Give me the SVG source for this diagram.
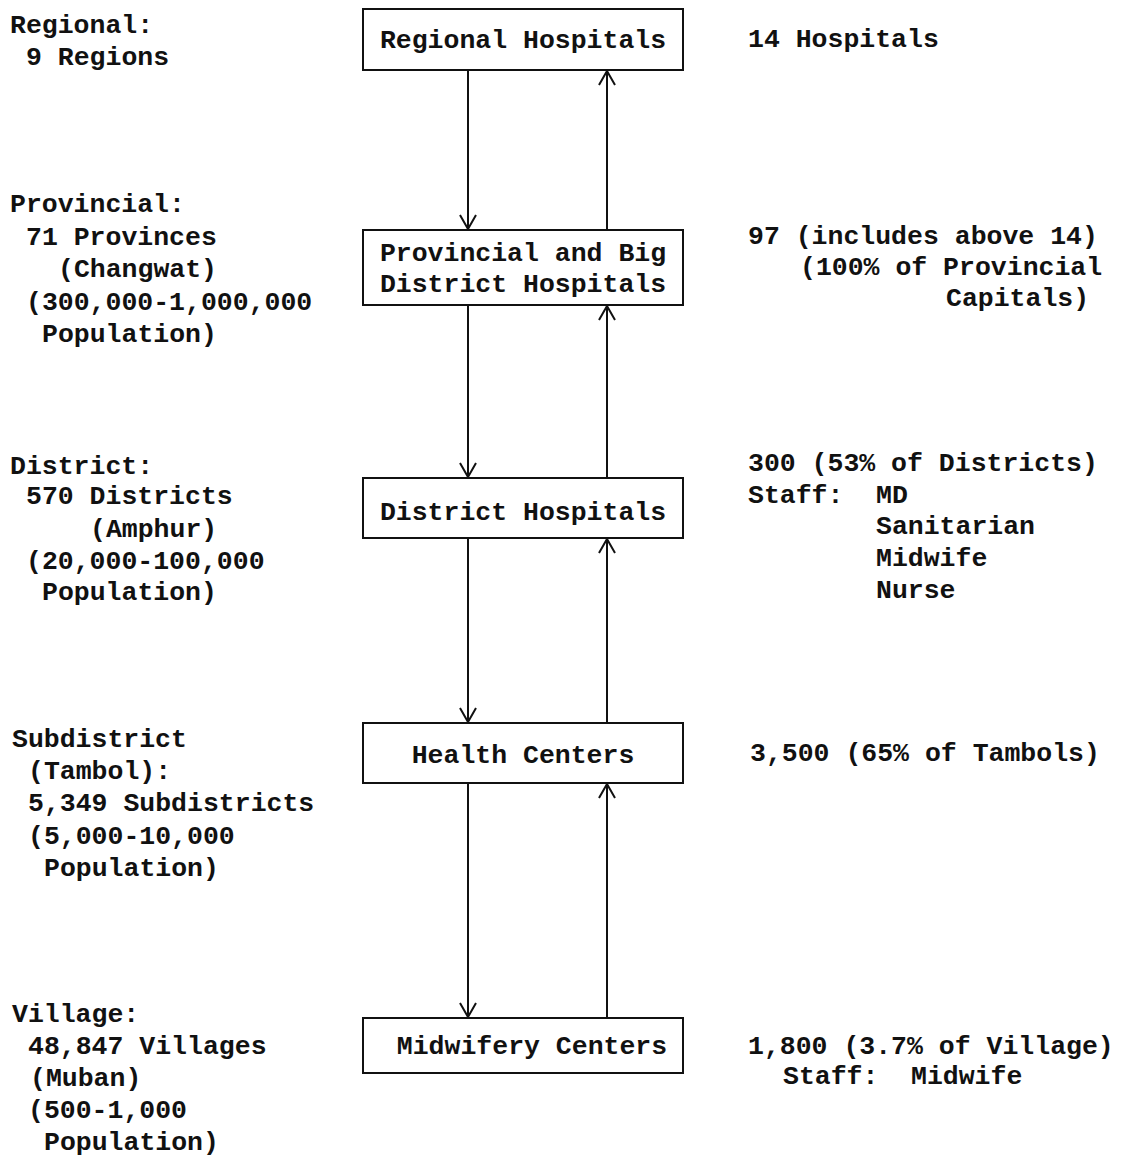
<svg xmlns="http://www.w3.org/2000/svg" width="1123" height="1156" viewBox="0 0 1123 1156">
<style>
text{font-family:"Liberation Mono","Courier New",monospace;font-size:26.5px;font-weight:bold;fill:#111}
.box{fill:#fff;stroke:#111;stroke-width:2}
.c{text-anchor:middle}
.ln{stroke:#111;stroke-width:2;fill:none}
</style>
<defs>
<marker id="ah" viewBox="0 0 16 18" refX="15" refY="9" markerWidth="16" markerHeight="18" markerUnits="userSpaceOnUse" orient="auto">
<path d="M1,1 L15,9 L1,17" fill="none" stroke="#111" stroke-width="2"/>
</marker>
</defs>
<rect width="1123" height="1156" fill="#fff"/>
<g id="connectors">
<line class="ln" x1="468" y1="70" x2="468" y2="229" marker-end="url(#ah)"/>
<line class="ln" x1="607" y1="230" x2="607" y2="71" marker-end="url(#ah)"/>
<line class="ln" x1="468" y1="305" x2="468" y2="477" marker-end="url(#ah)"/>
<line class="ln" x1="607" y1="478" x2="607" y2="306" marker-end="url(#ah)"/>
<line class="ln" x1="468" y1="538" x2="468" y2="722" marker-end="url(#ah)"/>
<line class="ln" x1="607" y1="723" x2="607" y2="539" marker-end="url(#ah)"/>
<line class="ln" x1="468" y1="783" x2="468" y2="1017" marker-end="url(#ah)"/>
<line class="ln" x1="607" y1="1018" x2="607" y2="784" marker-end="url(#ah)"/>
</g>
<g id="node-regional">
<rect class="box" x="363" y="9" width="320" height="61"/>
<text class="c" x="523" y="48">Regional Hospitals</text>
</g>
<g id="node-provincial">
<rect class="box" x="363" y="230" width="320" height="75"/>
<text class="c" x="523" y="261">Provincial and Big</text>
<text class="c" x="523" y="292">District Hospitals</text>
</g>
<g id="node-district">
<rect class="box" x="363" y="478" width="320" height="60"/>
<text class="c" x="523" y="520">District Hospitals</text>
</g>
<g id="node-health">
<rect class="box" x="363" y="723" width="320" height="60"/>
<text class="c" x="523" y="763">Health Centers</text>
</g>
<g id="node-midwifery">
<rect class="box" x="363" y="1018" width="320" height="55"/>
<text class="c" x="532" y="1054">Midwifery Centers</text>
</g>
<g id="left-labels">
<text x="10" y="33">Regional:</text>
<text x="26" y="65">9 Regions</text>
<text x="10" y="212">Provincial:</text>
<text x="26" y="245">71 Provinces</text>
<text x="58" y="277">(Changwat)</text>
<text x="26" y="310">(300,000-1,000,000</text>
<text x="42" y="342">Population)</text>
<text x="10" y="474">District:</text>
<text x="26" y="504">570 Districts</text>
<text x="90" y="537">(Amphur)</text>
<text x="26" y="569">(20,000-100,000</text>
<text x="42" y="600">Population)</text>
<text x="12" y="747">Subdistrict</text>
<text x="28" y="779">(Tambol):</text>
<text x="28" y="811">5,349 Subdistricts</text>
<text x="28" y="844">(5,000-10,000</text>
<text x="44" y="876">Population)</text>
<text x="12" y="1022">Village:</text>
<text x="28" y="1054">48,847 Villages</text>
<text x="30" y="1086">(Muban)</text>
<text x="28" y="1118">(500-1,000</text>
<text x="44" y="1150">Population)</text>
</g>
<g id="right-labels">
<text x="748" y="47">14 Hospitals</text>
<text x="748" y="244">97 (includes above 14)</text>
<text x="800" y="275">(100% of Provincial</text>
<text x="946" y="306">Capitals)</text>
<text x="748" y="471">300 (53% of Districts)</text>
<text x="748" y="503">Staff:</text>
<text x="876" y="503">MD</text>
<text x="876" y="534">Sanitarian</text>
<text x="876" y="566">Midwife</text>
<text x="876" y="598">Nurse</text>
<text x="750" y="761">3,500 (65% of Tambols)</text>
<text x="748" y="1054">1,800 (3.7% of Village)</text>
<text x="783" y="1084">Staff:</text>
<text x="911" y="1084">Midwife</text>
</g>
</svg>
